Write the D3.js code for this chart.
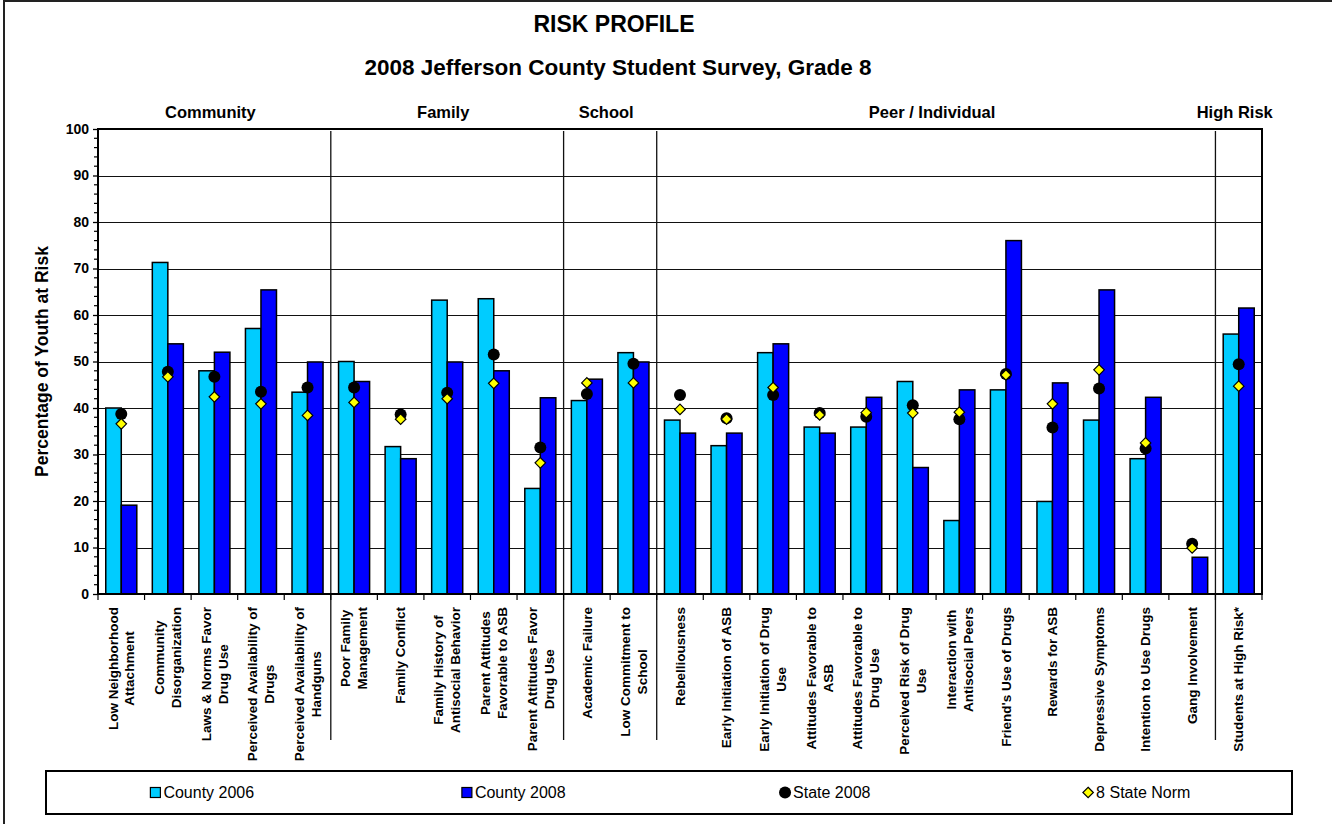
<!DOCTYPE html>
<html>
<head>
<meta charset="utf-8">
<script src="https://cdn.jsdelivr.net/npm/d3@7"></script>
<style>
  body { margin: 0; background: #fff; }
  svg text { font-family: "Liberation Sans", Arial, sans-serif; fill: #000; }
</style>
</head>
<body>
<svg id="chart" width="1332" height="824"></svg>
<script>
// categories, lines split with "|"
var categories = [
  "Low Neighborhood|Attachment", "Community|Disorganization", "Laws & Norms Favor|Drug Use",
  "Perceived Availability of|Drugs", "Perceived Availability of|Handguns",
  "Poor Family|Management", "Family Conflict", "Family History of|Antisocial Behavior",
  "Parent Attitudes|Favorable to ASB", "Parent Attitudes Favor|Drug Use",
  "Academic Failure", "Low Commitment to|School",
  "Rebelliousness", "Early Initiation of ASB", "Early Initiation of Drug|Use",
  "Attitudes Favorable to|ASB", "Attitudes Favorable to|Drug Use", "Perceived Risk of Drug|Use",
  "Interaction with|Antisocial Peers", "Friend's Use of Drugs", "Rewards for ASB",
  "Depressive Symptoms", "Intention to Use Drugs", "Gang Involvement",
  "Students at High Risk*"
];
var groupNames = ["Community", "Family", "School", "Peer / Individual", "High Risk"];
var groupSizes = [5, 5, 2, 12, 1];

var county2006 = [40.0, 71.3, 48.0, 57.1, 43.4, 50.0, 31.7, 63.2, 63.5, 22.7, 41.6, 51.9, 37.4, 31.9, 51.9, 35.9, 35.9, 45.7, 15.8, 43.9, 19.9, 37.4, 29.1, null, 55.9];
var county2008 = [19.1, 53.8, 52.0, 65.4, 49.9, 45.7, 29.1, 49.9, 48.0, 42.2, 46.2, 49.9, 34.6, 34.6, 53.8, 34.6, 42.3, 27.2, 43.9, 76.0, 45.4, 65.4, 42.3, 7.9, 61.5];
var state2008 = [38.7, 47.8, 46.7, 43.5, 44.4, 44.4, 38.6, 43.3, 51.5, 31.5, 43.0, 49.5, 42.8, 37.8, 42.8, 38.9, 38.1, 40.6, 37.6, 47.3, 35.8, 44.2, 31.3, 10.8, 49.4];
var stateNorm = [36.6, 46.7, 42.4, 40.9, 38.4, 41.2, 37.6, 42.0, 45.3, 28.2, 45.4, 45.4, 39.7, 37.6, 44.4, 38.5, 39.0, 38.9, 39.1, 47.1, 40.9, 48.2, 32.5, 9.9, 44.7];

var seriesNames = ["County 2006", "County 2008", "State 2008", "8 State Norm"];
var colors = { "County 2006": "#00CCFF", "County 2008": "#0000FF" };

var svg = d3.select("#chart");
var plot = { left: 98, right: 1262, top: 129, bottom: 594 };

// outer frame
svg.append("rect").attr("x", 4).attr("y", 1).attr("width", 1340).attr("height", 840)
  .attr("fill", "none").attr("stroke", "#222").attr("stroke-width", 2);

// titles
svg.append("text").attr("x", 614).attr("y", 32).attr("text-anchor", "middle")
  .style("font-size", "23px").style("font-weight", "bold").text("RISK PROFILE");
svg.append("text").attr("x", 618).attr("y", 75).attr("text-anchor", "middle")
  .style("font-size", "22.5px").style("font-weight", "bold")
  .text("2008 Jefferson County Student Survey, Grade 8");

var x = d3.scaleBand().domain(d3.range(categories.length))
  .range([plot.left, plot.right]).paddingInner(0).paddingOuter(0);
var xSub = d3.scaleBand().domain(["County 2006", "County 2008"])
  .range([0, x.bandwidth()]).paddingInner(0).paddingOuter(0.5);
var y = d3.scaleLinear().domain([0, 100]).range([plot.bottom, plot.top]);

// gridlines
svg.append("g").selectAll("line").data(d3.range(10, 100, 10)).enter().append("line")
  .attr("x1", plot.left).attr("x2", plot.right)
  .attr("y1", function (d) { return Math.round(y(d)) + 0.5; })
  .attr("y2", function (d) { return Math.round(y(d)) + 0.5; })
  .attr("stroke", "#111").attr("stroke-width", 1);

// group dividers and group labels
var start = 0;
var bounds = [];
groupSizes.forEach(function (n, i) {
  var x0 = x(start), x1 = x(start + n - 1) + x.bandwidth();
  svg.append("text").attr("x", (x0 + x1) / 2 - 4).attr("y", 118).attr("text-anchor", "middle")
    .style("font-size", "16.5px").style("font-weight", "bold").text(groupNames[i]);
  start += n;
  if (i < groupSizes.length - 1) bounds.push(x1);
});
svg.append("g").selectAll("line").data(bounds).enter().append("line")
  .attr("x1", function (d) { return d; }).attr("x2", function (d) { return d; })
  .attr("y1", plot.top + 2).attr("y2", 740)
  .attr("stroke", "#111").attr("stroke-width", 1.3);

// bars
var barData = [];
categories.forEach(function (c, i) {
  barData.push({ i: i, s: "County 2006", v: county2006[i] });
  barData.push({ i: i, s: "County 2008", v: county2008[i] });
});
svg.append("g").selectAll("rect").data(barData.filter(function (d) { return d.v != null; }))
  .enter().append("rect")
  .attr("x", function (d) { return x(d.i) + xSub(d.s); })
  .attr("width", xSub.bandwidth())
  .attr("y", function (d) { return y(d.v); })
  .attr("height", function (d) { return y(0) - y(d.v); })
  .attr("fill", function (d) { return colors[d.s]; })
  .attr("stroke", "#000").attr("stroke-width", 1.5);

// markers
var cx = function (i) { return x(i) + x.bandwidth() / 2; };
var diamond = d3.symbol().type(d3.symbolDiamond2).size(70);
svg.append("g").selectAll("circle").data(state2008).enter().append("circle")
  .attr("cx", function (d, i) { return cx(i); })
  .attr("cy", function (d) { return y(d); })
  .attr("r", 6).attr("fill", "#000");
svg.append("g").selectAll("path").data(stateNorm).enter().append("path")
  .attr("d", diamond)
  .attr("transform", function (d, i) { return "translate(" + cx(i) + "," + y(d) + ")"; })
  .attr("fill", "#FFFF00").attr("stroke", "#000").attr("stroke-width", 1.2);

// plot frame
svg.append("rect").attr("x", plot.left).attr("y", plot.top)
  .attr("width", plot.right - plot.left).attr("height", plot.bottom - plot.top)
  .attr("fill", "none").attr("stroke", "#000").attr("stroke-width", 2);

// y axis
var yAxis = svg.append("g").attr("transform", "translate(" + plot.left + ",0)")
  .call(d3.axisLeft(y).tickValues(d3.range(0, 101, 10)).tickSize(5).tickPadding(4));
yAxis.select(".domain").remove();
yAxis.selectAll("line").attr("stroke", "#000").attr("stroke-width", 1.3);
yAxis.selectAll("text").style("font-size", "14px").style("font-weight", "bold")
  .style("font-family", "'Liberation Sans', Arial, sans-serif");
svg.append("g").selectAll("line").data(d3.range(0, 101, 2).filter(function (d) { return d % 10; }))
  .enter().append("line")
  .attr("x1", plot.left - 4).attr("x2", plot.left)
  .attr("y1", function (d) { return y(d); }).attr("y2", function (d) { return y(d); })
  .attr("stroke", "#000").attr("stroke-width", 1.2);

svg.append("text").attr("transform", "translate(48," + ((plot.top + plot.bottom) / 2) + ") rotate(-90)")
  .attr("text-anchor", "middle").style("font-size", "17.5px").style("font-weight", "bold")
  .text("Percentage of Youth at Risk");

// x ticks
svg.append("g").selectAll("line").data(d3.range(categories.length + 1)).enter().append("line")
  .attr("x1", function (d) { return plot.left + d * x.step(); })
  .attr("x2", function (d) { return plot.left + d * x.step(); })
  .attr("y1", plot.bottom).attr("y2", plot.bottom + 6)
  .attr("stroke", "#000").attr("stroke-width", 1.2);

// x labels, rotated, lines centred on the longest line
categories.forEach(function (c, i) {
  var lines = c.split("|");
  var g = svg.append("g").attr("transform", "translate(" + cx(i) + ",607) rotate(-90)");
  var texts = lines.map(function (l, k) {
    return g.append("text")
      .attr("y", (k - (lines.length - 1) / 2) * 17)
      .attr("dy", "0.35em").attr("text-anchor", "middle")
      .style("font-size", "13.5px").style("font-weight", "bold").text(l);
  });
  var maxLen = d3.max(texts, function (t) { return t.node().getComputedTextLength(); });
  texts.forEach(function (t) { t.attr("x", -maxLen / 2); });
});

// legend
var leg = { left: 46, right: 1292, top: 771, bottom: 814 };
svg.append("rect").attr("x", leg.left).attr("y", leg.top)
  .attr("width", leg.right - leg.left).attr("height", leg.bottom - leg.top)
  .attr("fill", "#fff").attr("stroke", "#000").attr("stroke-width", 2);
var colW = (leg.right - leg.left) / seriesNames.length;
seriesNames.forEach(function (s, i) {
  var g = svg.append("g");
  var t = g.append("text").attr("x", 14).attr("y", (leg.top + leg.bottom) / 2).attr("dy", "0.35em")
    .style("font-size", "16px").text(s);
  var w = 14 + t.node().getComputedTextLength();
  var yc = (leg.top + leg.bottom) / 2;
  if (i < 2) {
    g.append("rect").attr("x", 1).attr("y", yc - 5).attr("width", 10).attr("height", 10)
      .attr("fill", colors[s]).attr("stroke", "#000").attr("stroke-width", 1.2);
  } else if (i === 2) {
    g.append("circle").attr("cx", 6).attr("cy", yc).attr("r", 6).attr("fill", "#000");
  } else {
    g.append("path").attr("d", diamond).attr("transform", "translate(6," + yc + ")")
      .attr("fill", "#FFFF00").attr("stroke", "#000").attr("stroke-width", 1.2);
  }
  var x0 = leg.left + colW * (i + 0.5) - w / 2;
  g.attr("transform", "translate(" + x0 + ",0)");
});
</script>
</body>
</html>
